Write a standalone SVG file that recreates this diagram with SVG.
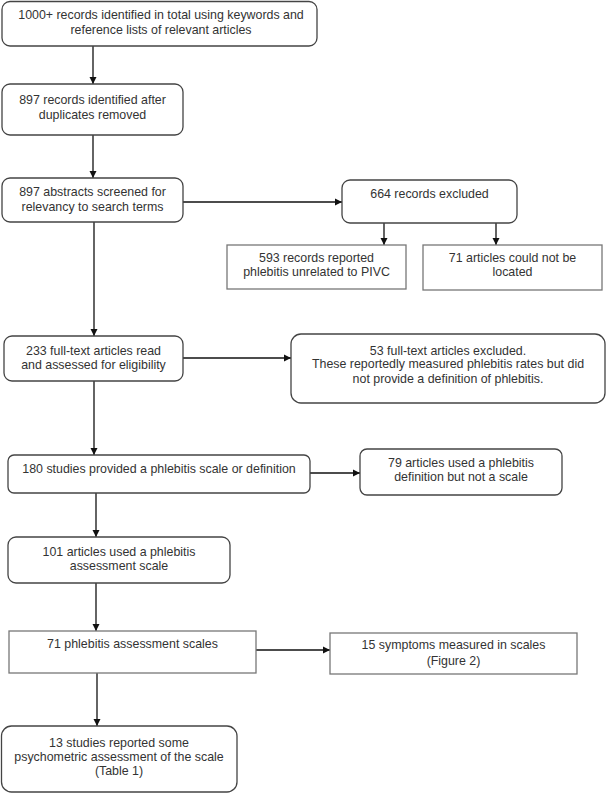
<svg xmlns="http://www.w3.org/2000/svg" width="608" height="793" viewBox="0 0 608 793">
<defs>
<marker id="ah" markerUnits="userSpaceOnUse" markerWidth="8" markerHeight="8" refX="7" refY="4" orient="auto">
<path d="M0,0.5 L7,4 L0,7.5 Z" fill="#111"/>
</marker>
<style>
.r{fill:#fff;stroke:#444;stroke-width:1.3}
.s{fill:#fff;stroke:#777;stroke-width:1.3}
.t{font-family:"Liberation Sans",Arial,sans-serif;font-size:12.4px;fill:#333;text-anchor:middle}
.c{fill:none;stroke:#111;stroke-width:1.3;marker-end:url(#ah)}
</style>
</defs>
<rect width="608" height="793" fill="#fff"/>
<g id="connectors">
<line class="c" x1="93" y1="46" x2="93" y2="84"/>
<line class="c" x1="93" y1="135" x2="93" y2="178"/>
<line class="c" x1="183" y1="202" x2="342" y2="202"/>
<line class="c" x1="384" y1="223" x2="384" y2="245"/>
<line class="c" x1="496" y1="223" x2="496" y2="245"/>
<line class="c" x1="94" y1="222" x2="94" y2="336"/>
<line class="c" x1="183" y1="358" x2="291" y2="358"/>
<line class="c" x1="94" y1="381" x2="94" y2="455"/>
<line class="c" x1="310" y1="473" x2="360" y2="473"/>
<line class="c" x1="96" y1="493" x2="96" y2="537"/>
<line class="c" x1="96" y1="583" x2="96" y2="631"/>
<line class="c" x1="256" y1="650" x2="330" y2="650"/>
<line class="c" x1="97" y1="673" x2="97" y2="726"/>
</g>
<g id="n1">
<rect class="r" x="2" y="1.5" width="315" height="44.5" rx="8"/>
<text class="t" x="161" y="19">1000+ records identified in total using keywords and</text>
<text class="t" x="161" y="34">reference lists of relevant articles</text>
</g>
<g id="n2">
<rect class="r" x="2" y="84" width="181" height="51" rx="8"/>
<text class="t" x="92.5" y="104">897 records identified after</text>
<text class="t" x="92.5" y="119">duplicates removed</text>
</g>
<g id="n3">
<rect class="r" x="2" y="178" width="181" height="44" rx="8"/>
<text class="t" x="92.5" y="196">897 abstracts screened for</text>
<text class="t" x="92.5" y="211">relevancy to search terms</text>
</g>
<g id="n4">
<rect class="r" x="342" y="180" width="175" height="43" rx="8"/>
<text class="t" x="429.5" y="198">664 records excluded</text>
</g>
<g id="n5">
<rect class="s" x="227" y="245" width="179" height="44"/>
<text class="t" x="316.5" y="262">593 records reported</text>
<text class="t" x="316.5" y="276">phlebitis unrelated to PIVC</text>
</g>
<g id="n6">
<rect class="s" x="423" y="245" width="179" height="45"/>
<text class="t" x="512.5" y="262">71 articles could not be</text>
<text class="t" x="512.5" y="276">located</text>
</g>
<g id="n7">
<rect class="r" x="4" y="336" width="179" height="45" rx="8"/>
<text class="t" x="93.5" y="355">233 full-text articles read</text>
<text class="t" x="93.5" y="369">and assessed for eligibility</text>
</g>
<g id="n8">
<rect class="r" x="291" y="334" width="314" height="69" rx="10"/>
<text class="t" x="448" y="355">53 full-text articles excluded.</text>
<text class="t" x="448" y="368">These reportedly measured phlebitis rates but did</text>
<text class="t" x="448" y="383">not provide a definition of phlebitis.</text>
</g>
<g id="n9">
<rect class="r" x="8" y="455" width="302" height="38" rx="6"/>
<text class="t" x="159" y="473">180 studies provided a phlebitis scale or definition</text>
</g>
<g id="n10">
<rect class="r" x="360" y="449" width="202" height="46" rx="7"/>
<text class="t" x="461" y="467">79 articles used a phlebitis</text>
<text class="t" x="461" y="481">definition but not a scale</text>
</g>
<g id="n11">
<rect class="r" x="8" y="537" width="222" height="46" rx="8"/>
<text class="t" x="119" y="556">101 articles used a phlebitis</text>
<text class="t" x="119" y="570">assessment scale</text>
</g>
<g id="n12">
<rect class="s" x="9" y="631" width="247" height="42"/>
<text class="t" x="132.5" y="648">71 phlebitis assessment scales</text>
</g>
<g id="n13">
<rect class="s" x="330" y="633" width="247" height="41"/>
<text class="t" x="453.5" y="649">15 symptoms measured in scales</text>
<text class="t" x="453.5" y="665">(Figure 2)</text>
</g>
<g id="n14">
<rect class="r" x="1.5" y="726" width="235.5" height="66" rx="10"/>
<text class="t" x="119" y="747">13 studies reported some</text>
<text class="t" x="119" y="761">psychometric assessment of the scale</text>
<text class="t" x="119" y="775">(Table 1)</text>
</g>
</svg>
